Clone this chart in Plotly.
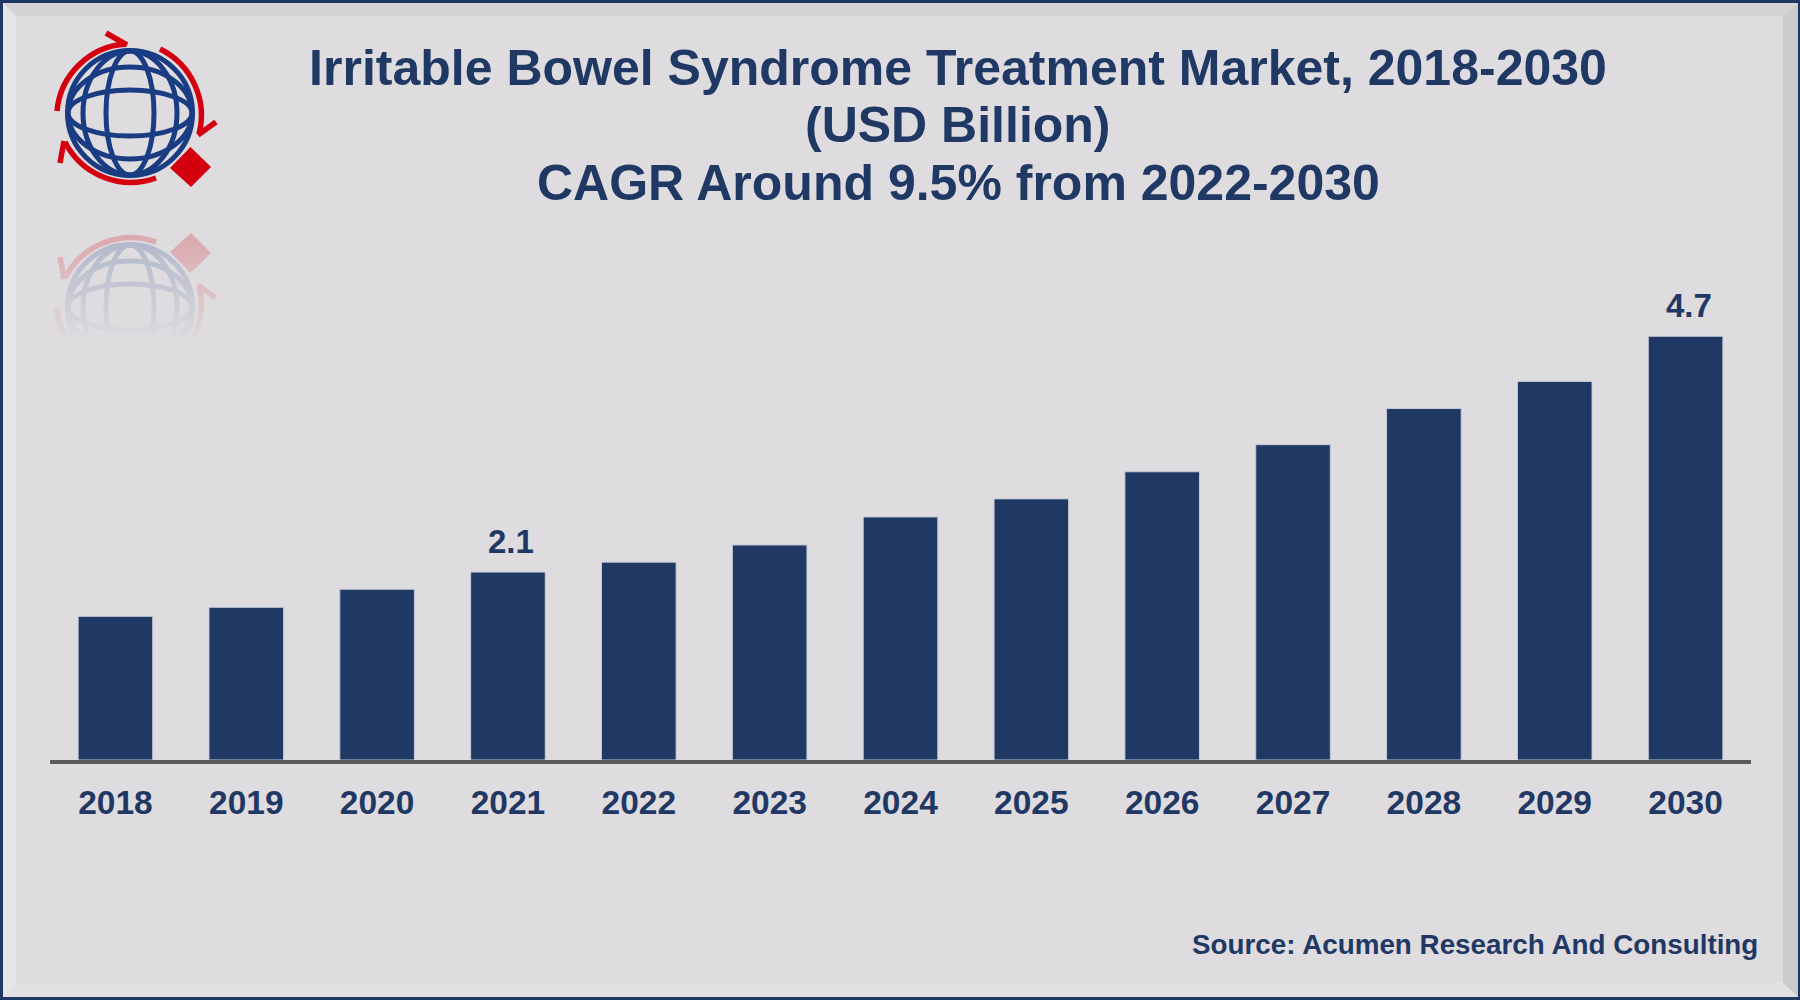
import base64
import plotly.graph_objects as go

years = ["2018","2019","2020","2021","2022","2023","2024","2025","2026","2027","2028","2029","2030"]
market = [1.59,1.69,1.89,2.08,2.19,2.38,2.69,2.89,3.19,3.49,3.89,4.19,4.69]
labelled = {"2021": "2.1", "2030": "4.7"}
title_lines = ["Irritable Bowel Syndrome Treatment Market, 2018-2030", "(USD Billion)", "CAGR Around 9.5% from 2022-2030"]
source_text = "Source: Acumen Research And Consulting"

NAVY = "#1F3864"
W, H = 1800, 1000

def px(x): return x / W
def py(y): return 1 - y / H
def poly(points, color):
    d = "M " + " L ".join(f"{px(x):.5f},{py(y):.5f}" for x, y in points) + " Z"
    return dict(type="path", path=d, xref="paper", yref="paper", fillcolor=color, line=dict(width=0), layer="below")

shapes = [
    poly([(0,0),(W,0),(W,3),(0,3)], NAVY),
    poly([(0,H),(W,H),(W,H-3),(0,H-3)], NAVY),
    poly([(0,0),(3,0),(3,H),(0,H)], NAVY),
    poly([(W,0),(W-2,0),(W-2,H),(W,H)], NAVY),
    poly([(3,3),(W-2,3),(W-17,16),(16,16)], "#D5D4D5"),
    poly([(3,3),(16,16),(16,H-17),(3,H-3)], "#E6E6EA"),
    poly([(W-2,3),(W-17,16),(W-17,H-17),(W-2,H-3)], "#CBCCCC"),
    poly([(3,H-3),(16,H-17),(W-17,H-17),(W-2,H-3)], "#E2E2E4"),
]

globe = '''
<g fill="none" stroke="#1A3C83" stroke-width="5">
  <circle cx="130" cy="113" r="62.500"/>
  <ellipse cx="130" cy="113" rx="24" ry="62"/>
  <ellipse cx="130" cy="113" rx="47" ry="62"/>
  <ellipse cx="130" cy="113" rx="62" ry="23"/>
  <ellipse cx="130" cy="113" rx="62" ry="46"/>
</g>
<g fill="none" stroke="#D4000F" stroke-width="5.500">
  <path d="M57 111 A74 74 0 0 1 126 44"/>
  <path d="M127 45 L106 33"/>
  <path d="M160 49 A74 74 0 0 1 199 134"/>
  <path d="M198 135 L216 122"/>
  <path d="M156 178 A74 74 0 0 1 65 142"/>
  <path d="M64 141 L60 163"/>
</g>
<path d="M190.500 147 L211 167 L191 187 L170 168 Z" fill="#D4000F"/>
'''
svg = f'''<svg xmlns="http://www.w3.org/2000/svg" width="300" height="360" viewBox="0 0 300 360">
<defs>
<linearGradient id="f" gradientUnits="userSpaceOnUse" x1="0" y1="232" x2="0" y2="340">
<stop offset="0" stop-color="#fff" stop-opacity="0.24"/>
<stop offset="0.55" stop-color="#fff" stop-opacity="0.12"/>
<stop offset="1" stop-color="#fff" stop-opacity="0"/>
</linearGradient>
<mask id="m" maskUnits="userSpaceOnUse" x="0" y="0" width="300" height="360"><rect x="0" y="0" width="300" height="360" fill="url(#f)"/></mask>
</defs>
{globe}
<g mask="url(#m)"><g transform="translate(0,420) scale(1,-1)">{globe}</g></g>
</svg>'''
logo = "data:image/svg+xml;base64," + base64.b64encode(svg.encode()).decode()

fig = go.Figure(go.Bar(
    x=years, y=market, width=0.57,
    marker=dict(color=NAVY, line=dict(color="#C4CAD6", width=1)),
    hoverinfo="x+y",
))

annotations = [
    dict(x=years.index(yr), y=market[years.index(yr)], text=f"<b>{t}</b>", xref="x", yref="y", showarrow=False,
         yanchor="middle", yshift=31, xshift=3,
         font=dict(family="Liberation Sans", size=33, color=NAVY))
    for yr, t in labelled.items()
]
annotations.append(dict(x=px(1760), y=py(944), xref="paper", yref="paper", text=f"<b>{source_text}</b>",
                        showarrow=False, xanchor="right", yanchor="middle",
                        font=dict(family="Liberation Sans", size=27.8, color=NAVY)))
for line, yc in zip(title_lines[1:], [125, 182.5]):
    annotations.append(dict(x=px(958), y=py(yc), xref="paper", yref="paper", text=f"<b>{line}</b>",
                            showarrow=False, xanchor="center", yanchor="middle",
                            font=dict(family="Liberation Sans", size=50, color=NAVY)))

fig.update_layout(
    width=W, height=H, margin=dict(l=0, r=0, t=0, b=0),
    paper_bgcolor="#DEDCDF", plot_bgcolor="rgba(0,0,0,0)", showlegend=False,
    title=dict(text=f"<b>{title_lines[0]}</b>", x=958/W, xanchor="center",
               y=py(67.7), yanchor="middle", font=dict(family="Liberation Sans", size=50, color=NAVY)),
    xaxis=dict(domain=[50/W, 1751/W], type="category", range=[-0.5, 12.5], showgrid=False,
               showline=True, linecolor="#5A5A5A", linewidth=4, ticks="outside", ticklen=10, tickcolor="rgba(0,0,0,0)",
               tickfont=dict(family="Liberation Sans", size=33.5, color=NAVY, weight="bold")),
    yaxis=dict(domain=[0.24, 0.9], range=[0, 660/90.35], visible=False),
    shapes=shapes, annotations=annotations,
    images=[dict(source=logo, xref="paper", yref="paper", x=0, y=1, xanchor="left", yanchor="top",
                 sizex=300/W, sizey=360/H, sizing="stretch", layer="above")],
)
fig.write_html("out.html", config={"displayModeBar": False}, post_script="document.body.style.margin='0';")
